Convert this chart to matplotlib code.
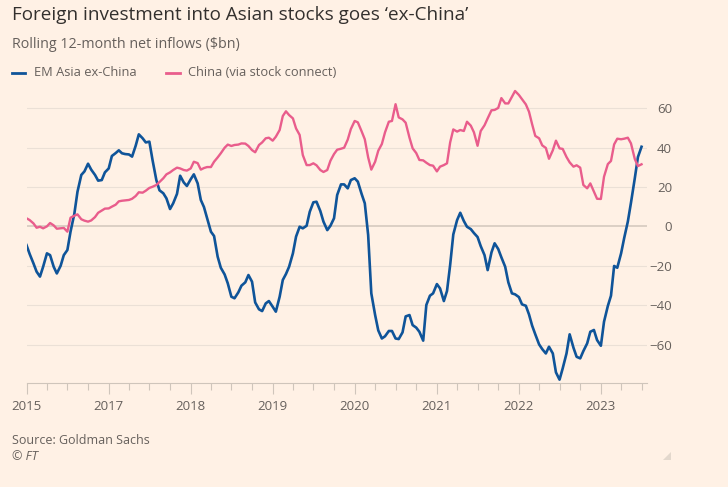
import pandas as pd
import matplotlib
matplotlib.use("Agg")
import matplotlib.pyplot as plt
import matplotlib.dates as mdates
from matplotlib.lines import Line2D
from matplotlib.patches import Polygon
from matplotlib.ticker import FixedLocator, FixedFormatter

# semi-monthly readings, Jan 2016 -> Jul 2023 ($bn, rolling 12-month net inflows)
dates = pd.date_range("2016-01-01", periods=181, freq="SMS")
em_asia_ex_china = [
    -9.5, -14.0, -18.8, -23.0, -25.5, -20.5, -13.7, -14.6, -20.5, -23.9,
    -20.0, -14.6, -12.0, -2.7, 6.4, 17.6, 26.1, 27.9, 31.8, 28.8,
    26.1, 23.2, 23.5, 27.4, 29.4, 35.7, 37.2, 38.6, 37.1, 36.7,
    36.5, 35.4, 40.9, 46.7, 44.7, 42.6, 43.0, 33.7, 23.5, 18.3,
    16.8, 14.2, 8.8, 11.7, 16.5, 25.7, 22.3, 20.5, 23.9, 26.4,
    21.8, 13.4, 9.8, 4.1, -2.7, -4.9, -15.4, -21.0, -24.4, -28.9,
    -35.7, -36.5, -33.5, -30.1, -28.4, -24.7, -28.1, -38.6, -42.1, -43.0,
    -39.1, -37.9, -40.8, -43.3, -35.7, -27.2, -24.2, -20.5, -13.7, -5.2,
    -0.2, -1.0, 0.3, 7.4, 12.2, 12.5, 7.8, 2.4, -1.9, 0.3,
    4.1, 15.9, 21.3, 21.3, 19.3, 23.5, 24.4, 22.7, 16.4, 11.7,
    -4.4, -34.0, -45.0, -52.8, -56.9, -55.8, -53.1, -53.1, -56.9, -57.2,
    -53.8, -45.7, -45.0, -50.1, -51.4, -53.5, -58.0, -39.9, -35.2, -34.0,
    -29.3, -31.5, -37.9, -32.8, -19.6, -4.1, 3.2, 6.9, 2.7, -0.2,
    -1.4, -3.4, -5.4, -10.0, -14.6, -22.2, -13.2, -8.6, -11.5, -15.7,
    -20.5, -28.4, -34.0, -34.5, -35.9, -39.6, -40.3, -44.7, -50.4, -54.8,
    -59.9, -62.3, -64.5, -61.1, -64.5, -74.1, -77.8, -72.1, -64.5, -54.8,
    -61.6, -66.2, -67.0, -63.3, -59.4, -53.5, -52.6, -57.7, -60.6, -48.4,
    -40.4, -35.2, -20.1, -21.0, -13.7, -5.8, 2.4, 12.0, 24.4, 35.2,
    40.4,
]
china_stock_connect = [
    4.1, 3.2, 1.5, -0.7, -0.2, -1.0, 0.0, 1.7, 0.5, -1.2,
    -1.0, -0.8, -2.7, 4.4, 5.4, 6.1, 3.6, 2.9, 2.4, 3.0,
    4.7, 6.9, 8.0, 9.0, 9.1, 10.0, 11.0, 12.7, 13.0, 13.2,
    13.4, 14.0, 15.4, 17.3, 17.1, 18.1, 19.5, 20.1, 21.0, 22.5,
    24.4, 26.4, 27.4, 28.6, 29.8, 29.4, 28.6, 28.3, 29.4, 32.8,
    32.1, 28.8, 29.6, 30.1, 30.1, 32.8, 35.0, 37.1, 39.9, 41.5,
    40.8, 41.3, 41.5, 42.1, 42.0, 40.8, 38.7, 37.6, 41.3, 42.6,
    44.7, 45.0, 43.5, 45.5, 48.9, 56.0, 58.4, 56.5, 54.8, 49.7,
    46.4, 36.2, 31.1, 31.1, 32.0, 31.0, 28.6, 27.6, 28.6, 33.3,
    36.7, 38.9, 39.4, 39.9, 44.0, 49.4, 53.5, 52.8, 48.2, 44.2,
    35.0, 28.8, 32.8, 38.4, 41.8, 47.7, 53.1, 53.5, 62.0, 55.3,
    54.3, 52.6, 45.0, 39.6, 37.2, 33.7, 33.5, 32.3, 31.1, 30.8,
    27.9, 30.3, 31.1, 32.0, 42.6, 49.2, 48.1, 48.9, 48.4, 53.1,
    51.1, 47.7, 40.9, 48.4, 51.3, 54.8, 58.9, 59.1, 60.1, 65.1,
    62.4, 62.4, 65.8, 68.7, 66.7, 64.5, 61.9, 58.2, 51.8, 45.9,
    44.7, 41.1, 39.8, 34.3, 38.6, 43.5, 39.6, 39.3, 35.2, 32.5,
    30.3, 31.0, 29.8, 21.0, 19.3, 21.8, 17.6, 14.0, 13.9, 25.2,
    31.6, 33.2, 41.6, 44.5, 44.2, 44.5, 45.0, 42.1, 34.2, 30.6,
    31.5,
]
year_ticks = pd.date_range("2016-01-01", "2023-01-01", freq="YS")
year_labels = ["2015", "2017", "2018", "2019", "2020", "2021", "2022", "2023"]
value_ticks = [-60, -40, -20, 0, 20, 40, 60]

BG = "#fff1e5"
BLUE = "#0f5499"
PINK = "#e95d8c"
GREY = "#66605c"
plt.rcParams["font.family"] = ["Open Sans", "DejaVu Sans"]

W, H = 728, 487
fig = plt.figure(figsize=(W / 100, H / 100), dpi=100, facecolor=BG)
ax = fig.add_axes([26.5 / W, 1 - 383 / H, (646.7 - 26.5) / W, (383 - 84.5) / H])
ax.set_facecolor(BG)

ax.plot(dates, em_asia_ex_china, color=BLUE, lw=1.9, zorder=3, solid_joinstyle="round")
ax.plot(dates, china_stock_connect, color=PINK, lw=1.7, zorder=3, solid_joinstyle="round")

ax.set_ylim(-79.5, 72)
ax.set_xlim(mdates.date2num(pd.Timestamp("2016-01-01")), mdates.date2num(pd.Timestamp("2023-07-24")))

for v in value_ticks:
    if v == 0:
        ax.axhline(v, color="#d9cdc2", lw=1.3, zorder=1)
    else:
        ax.axhline(v, color="#ebe0d6", lw=0.8, zorder=1)

for s in ["top", "left", "right"]:
    ax.spines[s].set_visible(False)
ax.spines["bottom"].set_color("#cfc5bb")
ax.spines["bottom"].set_linewidth(0.8)

ax.xaxis.set_major_locator(FixedLocator(mdates.date2num(year_ticks)))
ax.xaxis.set_major_formatter(FixedFormatter(year_labels))
ax.xaxis.set_minor_locator(mdates.MonthLocator(bymonth=[1, 4, 7, 10]))
ax.tick_params(axis="x", which="major", length=7.9, width=0.8, color="#cfc5bb",
               labelsize=9.5, labelcolor=GREY, pad=4)
ax.tick_params(axis="x", which="minor", length=4.8, width=0.8, color="#cfc5bb")

ax.yaxis.tick_right()
ax.set_yticks(value_ticks)
ax.tick_params(axis="y", length=0, pad=18.2, labelsize=9.5, labelcolor=GREY)
for lab in ax.get_yticklabels():
    lab.set_horizontalalignment("right")

# title block
fig.text(12 / W, 1 - 15 / H, "Foreign investment into Asian stocks goes \u2018ex-China\u2019",
         fontsize=13.6, color="#33302e", va="center")
fig.text(12 / W, 1 - 44 / H, "Rolling 12-month net inflows ($bn)", fontsize=10.3, color=GREY, va="center")

# legend
fig.add_artist(Line2D([12 / W, 25 / W], [1 - 73 / H] * 2, color=BLUE, lw=2))
fig.text(34 / W, 1 - 73 / H, "EM Asia ex-China", fontsize=9.3, color=GREY, va="center")
fig.add_artist(Line2D([166 / W, 180 / W], [1 - 73 / H] * 2, color=PINK, lw=2))
fig.text(188 / W, 1 - 73 / H, "China (via stock connect)", fontsize=9.3, color=GREY, va="center")

fig.text(12 / W, 1 - 440 / H, "Source: Goldman Sachs", fontsize=9, color=GREY, va="center")
fig.text(12 / W, 1 - 457 / H, "\u00a9 FT", fontsize=9, color=GREY, va="center", style="italic")

fig.add_artist(Polygon([[671 / W, 1 - 452 / H], [671 / W, 1 - 460 / H], [663 / W, 1 - 460 / H]],
                       closed=True, transform=fig.transFigure, color="#e3d8cd", lw=0))

fig.savefig("out.png", dpi=100, facecolor=BG)
